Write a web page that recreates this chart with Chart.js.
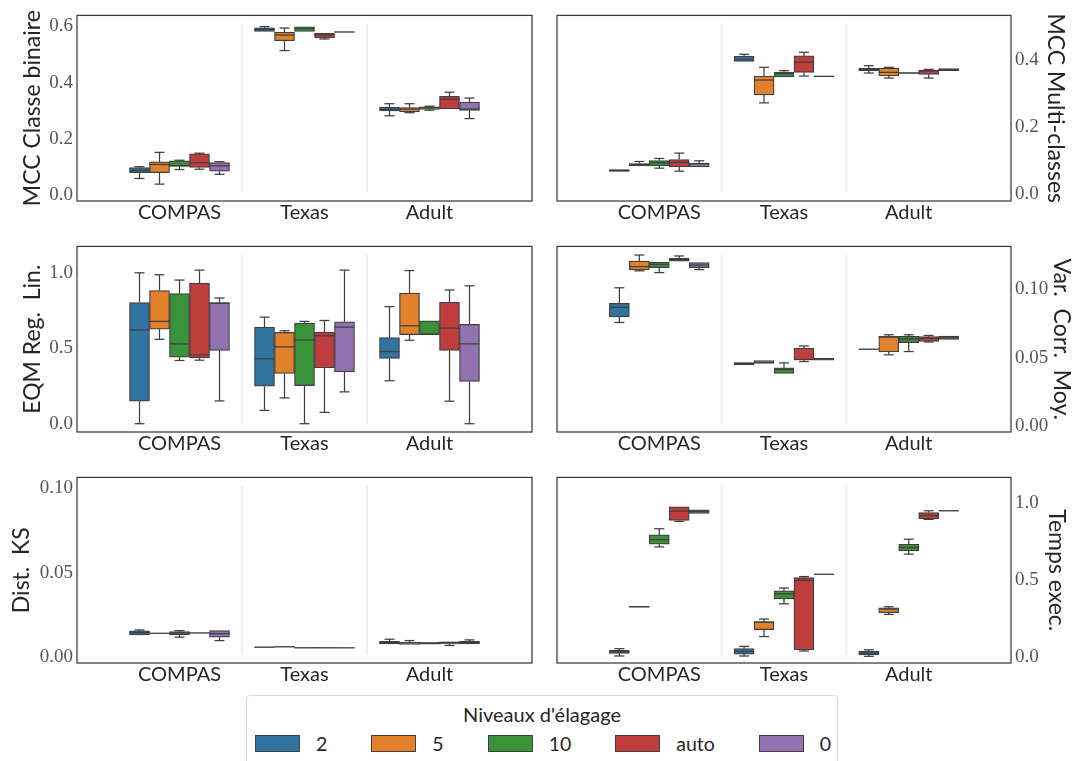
<!DOCTYPE html>
<html>
<head>
<meta charset="utf-8">
<script src="https://cdn.jsdelivr.net/npm/chart.js@4.4.1/dist/chart.umd.min.js"></script>
<style>
  html, body { margin: 0; padding: 0; background: #fff; }
  body { width: 1077px; height: 761px; position: relative; overflow: hidden; }
  .panel { position: absolute; }
  .legend {
    position: absolute; left: 246px; top: 695px; width: 592px; height: 80px;
    border: 1px solid #d8d8d8; border-radius: 4px; box-sizing: border-box;
    font-family: 'Lato', sans-serif; color: #262626; font-size: 20px;
  }
  .legend-title { position: absolute; left: 0; right: 0; top: 6px; text-align: center; }
  .legend-row { position: absolute; left: 8px; top: 36px; display: flex; align-items: center; white-space: nowrap; font-size: 19.5px; }
  .legend-item { display: flex; align-items: center; margin-right: 44px; }
  .legend-item:last-child { margin-right: 0; }
  .patch { width: 45px; height: 17px; border: 1.25px solid #3f3f3f; box-sizing: border-box; margin-right: 16px; }
</style>
</head>
<body>

<div class="panel" style="left:0;top:0"><canvas id="c0" width="540" height="231"></canvas></div>
<div class="panel" style="left:540px;top:0"><canvas id="c1" width="537" height="231"></canvas></div>
<div class="panel" style="left:0;top:231px"><canvas id="c2" width="540" height="231"></canvas></div>
<div class="panel" style="left:540px;top:231px"><canvas id="c3" width="537" height="231"></canvas></div>
<div class="panel" style="left:0;top:462px"><canvas id="c4" width="540" height="231"></canvas></div>
<div class="panel" style="left:540px;top:462px"><canvas id="c5" width="537" height="231"></canvas></div>

<div class="legend">
  <div class="legend-title">Niveaux d'élagage</div>
  <div class="legend-row" id="legendRow"></div>
</div>

<script>
// Boxplots des métriques par jeu de données et niveau d'élagage

const categories = ['COMPAS', 'Texas', 'Adult'];
const pruneLevels = ['2', '5', '10', 'auto', '0'];
const pruneColors = ['#3274a1', '#e1812c', '#3a923a', '#c03d3e', '#9372b2'];

// stats par niveau -> par jeu : [moustache basse, q1, médiane, q3, moustache haute]
const mccBinaire = [
    [[0.059, 0.080, 0.088, 0.098, 0.101], [0.581, 0.582, 0.589, 0.595, 0.599], [0.282, 0.299, 0.305, 0.313, 0.325]],
    [[0.039, 0.080, 0.109, 0.118, 0.152], [0.514, 0.549, 0.569, 0.579, 0.594], [0.293, 0.296, 0.306, 0.311, 0.325]],
    [[0.091, 0.102, 0.105, 0.122, 0.124], [0.582, 0.582, 0.592, 0.598, 0.599], [0.302, 0.305, 0.311, 0.314, 0.316]],
    [[0.092, 0.098, 0.115, 0.147, 0.149], [0.555, 0.559, 0.569, 0.575, 0.576], [0.307, 0.307, 0.341, 0.351, 0.366]],
    [[0.074, 0.085, 0.104, 0.116, 0.119], [0.578, 0.579, 0.580, 0.581, 0.582], [0.272, 0.301, 0.306, 0.331, 0.345]]
];
const mccMulti = [
    [[0.067, 0.068, 0.071, 0.074, 0.075], [0.397, 0.397, 0.403, 0.412, 0.418], [0.362, 0.369, 0.373, 0.377, 0.384]],
    [[0.085, 0.085, 0.089, 0.092, 0.098], [0.273, 0.297, 0.341, 0.353, 0.379], [0.347, 0.353, 0.364, 0.377, 0.379]],
    [[0.078, 0.085, 0.094, 0.101, 0.107], [0.350, 0.350, 0.360, 0.364, 0.369], [0.360, 0.361, 0.362, 0.363, 0.364]],
    [[0.069, 0.082, 0.095, 0.104, 0.123], [0.353, 0.364, 0.394, 0.413, 0.424], [0.347, 0.358, 0.368, 0.371, 0.373]],
    [[0.082, 0.082, 0.091, 0.093, 0.100], [0.351, 0.351, 0.352, 0.353, 0.353], [0.369, 0.369, 0.372, 0.375, 0.375]]
];
const eqmRegLin = [
    [[0.000, 0.149, 0.621, 0.803, 1.000], [0.088, 0.248, 0.430, 0.640, 0.706], [0.285, 0.432, 0.478, 0.570, 0.776]],
    [[0.559, 0.627, 0.678, 0.882, 0.987], [0.171, 0.333, 0.509, 0.605, 0.616], [0.553, 0.590, 0.649, 0.866, 1.015]],
    [[0.419, 0.441, 0.529, 0.862, 0.952], [0.000, 0.252, 0.555, 0.667, 0.678], [0.590, 0.590, 0.594, 0.682, 0.682]],
    [[0.421, 0.436, 0.456, 0.932, 1.018], [0.075, 0.371, 0.583, 0.607, 0.684], [0.149, 0.485, 0.634, 0.805, 0.886]],
    [[0.151, 0.485, 0.798, 0.803, 0.833], [0.211, 0.344, 0.640, 0.675, 1.018], [0.000, 0.281, 0.529, 0.658, 0.914]]
];
const varCorrMoy = [
    [[0.0758, 0.0799, 0.0869, 0.0898, 0.1012], [0.0448, 0.0448, 0.0458, 0.0465, 0.0465], [0.0560, 0.0561, 0.0562, 0.0563, 0.0564]],
    [[0.1136, 0.1143, 0.1167, 0.1208, 0.1252], [0.0458, 0.0458, 0.0467, 0.0479, 0.0479], [0.0521, 0.0542, 0.0651, 0.0656, 0.0668]],
    [[0.1123, 0.1160, 0.1184, 0.1199, 0.1201], [0.0385, 0.0385, 0.0414, 0.0426, 0.0462], [0.0545, 0.0610, 0.0637, 0.0656, 0.0668]],
    [[0.1206, 0.1206, 0.1218, 0.1228, 0.1245], [0.0472, 0.0484, 0.0487, 0.0569, 0.0586], [0.0615, 0.0620, 0.0642, 0.0654, 0.0663]],
    [[0.1145, 0.1160, 0.1179, 0.1196, 0.1196], [0.0482, 0.0482, 0.0489, 0.0496, 0.0496], [0.0634, 0.0634, 0.0646, 0.0659, 0.0661]]
];
const distKs = [
    [[0.0131, 0.0131, 0.0145, 0.0155, 0.0161], [0.0057, 0.0058, 0.0059, 0.0060, 0.0061], [0.0078, 0.0078, 0.0086, 0.0094, 0.0106]],
    [[0.0139, 0.0140, 0.0141, 0.0142, 0.0143], [0.0059, 0.0060, 0.0061, 0.0062, 0.0062], [0.0073, 0.0075, 0.0084, 0.0088, 0.0098]],
    [[0.0118, 0.0131, 0.0143, 0.0151, 0.0157], [0.0053, 0.0054, 0.0055, 0.0056, 0.0057], [0.0076, 0.0077, 0.0082, 0.0088, 0.0088]],
    [[0.0141, 0.0142, 0.0143, 0.0144, 0.0145], [0.0053, 0.0054, 0.0055, 0.0056, 0.0056], [0.0069, 0.0078, 0.0086, 0.0090, 0.0092]],
    [[0.0098, 0.0118, 0.0139, 0.0157, 0.0157], [0.0054, 0.0054, 0.0055, 0.0055, 0.0056], [0.0078, 0.0078, 0.0086, 0.0094, 0.0102]]
];
const tempsExec = [
    [[0.0065, 0.0237, 0.0344, 0.043, 0.054], [0.0065, 0.019, 0.0366, 0.054, 0.069], [0.0043, 0.0129, 0.0258, 0.0387, 0.047]],
    [[0.323, 0.324, 0.327, 0.330, 0.331], [0.133, 0.178, 0.226, 0.230, 0.247], [0.277, 0.288, 0.312, 0.320, 0.327]],
    [[0.716, 0.733, 0.763, 0.794, 0.834], [0.346, 0.378, 0.411, 0.430, 0.449], [0.669, 0.690, 0.712, 0.733, 0.766]],
    [[0.882, 0.888, 0.948, 0.976, 0.976], [0.039, 0.047, 0.499, 0.516, 0.523], [0.895, 0.899, 0.920, 0.940, 0.951]],
    [[0.933, 0.933, 0.946, 0.957, 0.957], [0.536, 0.537, 0.538, 0.539, 0.540], [0.949, 0.950, 0.951, 0.952, 0.953]]
];

// graduations
const ticksMccBinaire = [0.0, 0.2, 0.4, 0.6];
const ticksMccMulti = [0.0, 0.2, 0.4];
const ticksEqm = [0.0, 0.5, 1.0];
const ticksVarCorr = [0.00, 0.05, 0.10];
const ticksDistKs = [0.00, 0.05, 0.10];
const ticksTemps = [0.0, 0.5, 1.0];

const hueOffsets = [-0.32, -0.16, 0, 0.16, 0.32];
const separators = [0.5, 1.5];
const EDGE = '#3f3f3f';

const panels = [
    { id: 'c0', stats: mccBinaire, ticks: ticksMccBinaire, title: 'MCC Classe binaire', side: 'left', min: -0.021, max: 0.639, dec: 1, titlePad: 19 },
    { id: 'c1', stats: mccMulti, ticks: ticksMccMulti, title: 'MCC Multi-classes', side: 'right', min: -0.020, max: 0.534, dec: 1, titlePad: 8 },
    { id: 'c2', stats: eqmRegLin, ticks: ticksEqm, title: 'EQM Reg.  Lin.', side: 'left', min: -0.055, max: 1.175, dec: 1, titlePad: 19 },
    { id: 'c3', stats: varCorrMoy, ticks: ticksVarCorr, title: 'Var.  Corr.  Moy.', side: 'right', min: -0.0044, max: 0.1315, dec: 2, titlePad: 2 },
    { id: 'c4', stats: distKs, ticks: ticksDistKs, title: 'Dist.  KS', side: 'left', min: -0.0035, max: 0.1065, dec: 2, titlePad: 8 },
    { id: 'c5', stats: tempsExec, ticks: ticksTemps, title: 'Temps exec.', side: 'right', min: -0.039, max: 1.168, dec: 1, titlePad: 7 }
];

/**
 * Moustaches, médianes, séparateurs et cadre
 */
const boxPlotPlugin = {
    id: 'boxPlot',
    beforeDatasetsDraw(chart) {
        const { ctx, chartArea: a, scales: { x } } = chart;
        const h = a.bottom - a.top;
        ctx.save();
        ctx.strokeStyle = '#ebebeb';
        ctx.lineWidth = 1.5;
        separators.forEach(v => {
            const px = x.getPixelForValue(v);
            ctx.beginPath();
            ctx.moveTo(px, a.top + h * 0.045);
            ctx.lineTo(px, a.bottom - h * 0.045);
            ctx.stroke();
        });
        ctx.restore();
    },
    afterDatasetsDraw(chart) {
        const { ctx, scales: { y } } = chart;
        ctx.save();
        ctx.strokeStyle = EDGE;
        ctx.lineWidth = 1.25;
        const line = (x1, y1, x2, y2) => {
            ctx.beginPath();
            ctx.moveTo(x1, y1);
            ctx.lineTo(x2, y2);
            ctx.stroke();
        };
        chart.data.datasets.forEach((ds, di) => {
            const meta = chart.getDatasetMeta(di);
            meta.data.forEach((bar, gi) => {
                const [lo, q1, med, q3, hi] = ds.stats[gi];
                const half = bar.width / 2;
                const cap = bar.width / 4;
                const yLo = y.getPixelForValue(lo), yQ1 = y.getPixelForValue(q1);
                const yQ3 = y.getPixelForValue(q3), yHi = y.getPixelForValue(hi);
                const yMed = y.getPixelForValue(med);
                if (yLo - yQ1 > 0.5) { line(bar.x, yQ1, bar.x, yLo); line(bar.x - cap, yLo, bar.x + cap, yLo); }
                if (yQ3 - yHi > 0.5) { line(bar.x, yQ3, bar.x, yHi); line(bar.x - cap, yHi, bar.x + cap, yHi); }
                line(bar.x - half, yMed, bar.x + half, yMed);
            });
        });
        ctx.restore();
    },
    afterDraw(chart) {
        const { ctx, chartArea: a } = chart;
        ctx.save();
        ctx.strokeStyle = '#3a3a3a';
        ctx.lineWidth = 1.25;
        ctx.strokeRect(a.left, a.top, a.right - a.left, a.bottom - a.top);
        ctx.restore();
    }
};

function buildPanel(p) {
    const isLeft = p.side === 'left';
    const datasets = pruneLevels.map((lvl, h) => ({
        label: lvl,
        stats: p.stats[h],
        data: p.stats[h].map((s, gi) => ({ x: gi + hueOffsets[h], y: [s[1], s[3]] })),
        backgroundColor: pruneColors[h],
        borderColor: EDGE,
        borderWidth: 1.25,
        borderSkipped: false,
        grouped: false,
        categoryPercentage: 1,
        barPercentage: 1
    }));

    new Chart(document.getElementById(p.id), {
        type: 'bar',
        data: { datasets },
        options: {
            responsive: false,
            animation: false,
            layout: { padding: isLeft ? { left: 0, right: 8, top: 13, bottom: 0 } : { left: 17, right: 0, top: 13, bottom: 0 } },
            plugins: { legend: { display: false }, tooltip: { enabled: false } },
            scales: {
                x: {
                    type: 'linear',
                    min: -0.82,
                    max: 2.82,
                    offset: false,
                    afterBuildTicks: ax => { ax.ticks = categories.map((c, i) => ({ value: i })); },
                    afterFit: ax => { ax.height = 30; },
                    grid: { display: false, drawTicks: false },
                    border: { display: false },
                    ticks: {
                        padding: 0,
                        autoSkip: false,
                        maxRotation: 0,
                        color: '#262626',
                        font: { family: 'Lato', size: 20 },
                        callback: v => categories[v]
                    }
                },
                y: {
                    position: p.side,
                    min: p.min,
                    max: p.max,
                    afterBuildTicks: ax => { ax.ticks = p.ticks.map(v => ({ value: v })); },
                    afterFit: ax => { ax.width = isLeft ? 77 : 66; },
                    grid: { display: false, drawTicks: false },
                    border: { display: false },
                    ticks: {
                        padding: 4,
                        color: '#555555',
                        font: { family: 'Liberation Serif', size: 19 },
                        callback: v => v.toFixed(p.dec)
                    },
                    title: {
                        display: true,
                        text: p.title,
                        color: '#262626',
                        font: { family: 'Lato', size: 23 },
                        padding: { top: p.titlePad, bottom: 0 }
                    }
                }
            }
        },
        plugins: [boxPlotPlugin]
    });
}

function buildLegend() {
    const row = document.getElementById('legendRow');
    pruneLevels.forEach((lvl, h) => {
        const item = document.createElement('div');
        item.className = 'legend-item';
        item.innerHTML = `<span class="patch" style="background:${pruneColors[h]}"></span><span>${lvl}</span>`;
        row.appendChild(item);
    });
}

panels.forEach(buildPanel);
buildLegend();
</script>
</body>
</html>
